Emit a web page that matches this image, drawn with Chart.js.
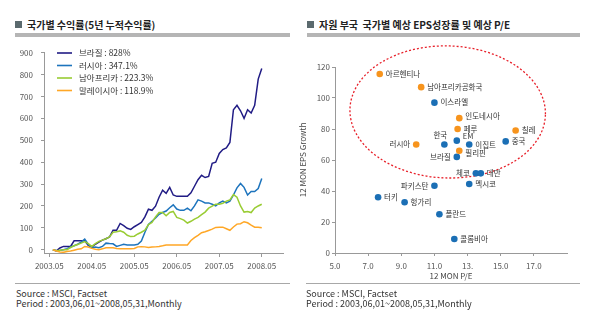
<!DOCTYPE html>
<html>
<head>
<meta charset="utf-8">
<script src="https://cdn.jsdelivr.net/npm/chart.js"></script>
<style>
  body { margin: 0; width: 598px; height: 329px; background: #fff; position: relative; overflow: hidden;
         font-family: 'Noto Sans CJK KR', sans-serif; color: #333; }
  .title { position: absolute; top: 18px; font-size: 10px; line-height: 13px; font-weight: bold; white-space: nowrap; color: #222; }
  .title span { display: inline-block; width: 7px; height: 7px; background: #5b6a6e; margin-right: 5px; vertical-align: 1px; }
  .bar { position: absolute; top: 33px; height: 4px; background: #b5b5b5; }
  .rule { position: absolute; top: 283px; height: 1px; background: #a8a8a8; }
  .src { position: absolute; top: 289px; font-size: 9px; line-height: 10px; white-space: nowrap; color: #333; }
  canvas { position: absolute; }
</style>
</head>
<body>
<div class="title" style="left:15px"><span></span>국가별 수익률(5년 누적수익률)</div>
<div class="bar" style="left:15px;width:275px"></div>
<div class="title" style="left:307px"><span></span>자원 부국&nbsp; 국가별 예상 EPS성장률 및 예상 P/E</div>
<div class="bar" style="left:307px;width:273px"></div>

<canvas id="lineChart" width="295" height="240" style="left:0;top:40px"></canvas>
<canvas id="scatterChart" width="300" height="245" style="left:298px;top:40px"></canvas>

<div class="rule" style="left:15px;width:275px"></div>
<div class="rule" style="left:306px;width:274px"></div>
<div class="src" style="left:16px">Source : MSCI, Factset<br>Period : 2003,06,01~2008,05,31,Monthly</div>
<div class="src" style="left:306px">Source : MSCI, Factset<br>Period : 2003,06,01~2008,05,31,Monthly</div>

<script>
// ---- left chart data (cumulative return %, monthly from 2003.06 to 2008.05) ----
const seriesNames = ["브라질", "러시아", "남아프리카", "말레이시아"];
const seriesReturns = ["828%", "347.1%", "223.3%", "118.9%"];
const seriesColors = ["#211c85", "#1d74bd", "#99cc33", "#ffa726"];

const brazil = [0, -5, 8, 15, 15, 15, 41, 41, 41, 41, 20, 12, 25, 35, 44, 50, 58, 89, 89, 120,
  110, 98, 93, 105, 115, 125, 150, 185, 180, 199, 240, 272, 258, 285, 250, 244, 244, 244, 244, 260,
  290, 320, 340, 330, 335, 395, 400, 440, 458, 465, 490, 640, 660, 635, 600, 640, 625, 660, 780, 828];
const russia = [0, -5, -3, 0, 5, 13, 18, 25, 35, 49, 25, 9, 12, 9, 15, 30, 28, 27, 15, 20,
  25, 22, 22, 22, 25, 40, 80, 115, 130, 145, 162, 170, 177, 192, 205, 186, 180, 180, 190, 178,
  200, 228, 222, 214, 214, 208, 200, 214, 222, 214, 222, 250, 283, 303, 285, 250, 266, 266, 280, 325];
const southAfrica = [0, -5, -2, 0, 0, 10, 18, 24, 30, 37, 28, 15, 28, 38, 44, 50, 58, 80, 82, 86,
  80, 66, 60, 62, 72, 80, 89, 115, 125, 150, 170, 170, 155, 170, 175, 148, 142, 135, 122, 130,
  140, 148, 160, 172, 190, 199, 208, 208, 212, 222, 228, 252, 240, 200, 172, 175, 170, 190, 200, 208];
const malaysia = [0, -6, -10, -12, -8, -6, -2, 2, 4, 15, 12, 6, 2, 0, 4, 9, 9, 9, 6, 4,
  4, 4, 4, 6, 13, 14, 13, 10, 12, 13, 15, 18, 22, 22, 22, 22, 22, 22, 22, 42,
  55, 66, 78, 82, 88, 94, 102, 103, 103, 96, 89, 104, 117, 119, 128, 123, 112, 103, 103, 100];

const returnTicks = [0, 100, 200, 300, 400, 500, 600, 700, 800, 900];

// month index of each x tick (0 = 2003.06) and its label
const monthTicks = [-1, 11, 23, 35, 47, 59];
const monthTickLabels = ["2003.05", "2004.05", "2005.05", "2006.05", "2007.05", "2008.05"];

// ---- right chart data (12M P/E, 12M EPS growth) ----
const orangeNames = ["아르헨티나", "남아프리카공화국", "러시아", "인도네시아", "페루", "칠레", "필리핀"];
const orangePE = [7.7, 10.2, 9.9, 12.5, 12.4, 15.9, 12.5];
const orangeEPS = [115.5, 107, 70, 87, 80, 79, 66];

const blueNames = ["이스라엘", "한국", "EM", "이집트", "중국", "브라질", "파키스탄", "체코", "대만",
  "멕시코", "터키", "헝가리", "폴란드", "콜롬비아"];
const bluePE = [11.0, 11.6, 12.35, 13.1, 15.3, 12.35, 11.0, 13.5, 13.8, 13.1, 7.6, 9.2, 11.3, 12.2];
const blueEPS = [97, 70, 72.5, 70, 72, 62, 43.4, 51.4, 51.4, 44.5, 36, 32.7, 25, 9];

const peTicks = [5, 7, 9, 11, 13, 15, 17];
const peTickLabels = ["5.0", "7.0", "9.0", "11.0", "13.", "15.0", "17.0"];

// dashed circle around the group (centre and radii in data units)
const ellipseCenter = [11.8, 91];
const ellipseRadius = [5.9, 42.6];

Chart.defaults.font.family = "'Noto Sans CJK KR', sans-serif";
Chart.defaults.font.size = 8;
Chart.defaults.color = "#555";

const axisColor = "#999";

// legend drawn inside the plot
const lineLegend = {
  id: "lineLegend",
  afterDraw(chart) {
    const ctx = chart.ctx;
    ctx.save();
    ctx.font = "8.5px 'Noto Sans CJK KR', sans-serif";
    ctx.fillStyle = "#333";
    ctx.textBaseline = "middle";
    seriesNames.forEach((name, i) => {
      const y = 13 + i * 12.5;
      ctx.strokeStyle = seriesColors[i];
      ctx.lineWidth = 1.6;
      ctx.beginPath();
      ctx.moveTo(57, y);
      ctx.lineTo(72, y);
      ctx.stroke();
      ctx.fillText(name + " : " + seriesReturns[i], 79, y);
    });
    ctx.restore();
  }
};

const allSeries = [brazil, russia, southAfrica, malaysia];

new Chart(document.getElementById("lineChart"), {
  type: "line",
  data: {
    datasets: allSeries.map((values, i) => ({
      label: seriesNames[i],
      data: values.map((v, m) => ({ x: m, y: v })),
      borderColor: seriesColors[i],
      borderWidth: 1.5,
      pointRadius: 0,
      tension: 0
    })).reverse()
  },
  options: {
    responsive: false,
    animation: false,
    layout: { padding: { top: 7, right: 12, left: 0, bottom: 0 } },
    plugins: { legend: { display: false }, tooltip: { enabled: false } },
    scales: {
      x: {
        type: "linear",
        min: -2.5,
        max: 65,
        afterBuildTicks: (s) => { s.ticks = monthTicks.map((v) => ({ value: v })); },
        afterFit: (s) => { s.height = 27; },
        ticks: {
          callback: (v, i) => monthTickLabels[i],
          padding: 4,
          maxRotation: 0,
          autoSkip: false
        },
        grid: { drawOnChartArea: false, tickLength: 4, color: axisColor },
        border: { color: axisColor }
      },
      y: {
        min: -15,
        max: 900,
        afterBuildTicks: (s) => { s.ticks = returnTicks.map((v) => ({ value: v })); },
        afterFit: (s) => { s.width = 44; },
        ticks: { padding: 8 },
        grid: { drawOnChartArea: false, tickLength: 3, color: axisColor },
        border: { color: axisColor }
      }
    }
  },
  plugins: [lineLegend]
});

// where a name goes if not to the right of its dot
const labelSide = { "한국": "above", "브라질": "left", "러시아": "left", "파키스탄": "left", "체코": "left" };
const labelNudge = { "EM": -4, "이집트": 1, "인도네시아": -2, "필리핀": 2.5 };

const ellipsePlugin = {
  id: "ellipse",
  beforeDatasetsDraw(chart) {
    const { ctx, scales } = chart;
    const cx = scales.x.getPixelForValue(ellipseCenter[0]);
    const cy = scales.y.getPixelForValue(ellipseCenter[1]);
    const rx = scales.x.getPixelForValue(ellipseCenter[0] + ellipseRadius[0]) - cx;
    const ry = cy - scales.y.getPixelForValue(ellipseCenter[1] + ellipseRadius[1]);
    ctx.save();
    ctx.strokeStyle = "#e8202a";
    ctx.lineWidth = 1.3;
    ctx.setLineDash([2, 2]);
    ctx.beginPath();
    ctx.ellipse(cx, cy, rx, ry, 0.03, 0, Math.PI * 2);
    ctx.stroke();
    ctx.restore();
  }
};

const pointLabels = {
  id: "pointLabels",
  afterDatasetsDraw(chart) {
    const ctx = chart.ctx;
    ctx.save();
    ctx.font = "7.5px 'Noto Sans CJK KR', sans-serif";
    ctx.fillStyle = "#333";
    ctx.textBaseline = "middle";
    chart.data.datasets.forEach((ds, di) => {
      chart.getDatasetMeta(di).data.forEach((pt, i) => {
        const name = ds.names[i];
        const side = labelSide[name] || "right";
        const dy = labelNudge[name] || 0;
        if (side === "left") {
          ctx.textAlign = "right";
          ctx.fillText(name, pt.x - 6, pt.y + dy);
        } else if (side === "above") {
          ctx.textAlign = "center";
          ctx.fillText(name, pt.x - 4, pt.y - 9);
        } else {
          ctx.textAlign = "left";
          ctx.fillText(name, pt.x + 6, pt.y + dy);
        }
      });
    });
    ctx.restore();
  }
};

new Chart(document.getElementById("scatterChart"), {
  type: "scatter",
  data: {
    datasets: [
      {
        label: "orange",
        names: orangeNames,
        data: orangePE.map((x, i) => ({ x: x, y: orangeEPS[i] })),
        backgroundColor: "#f7941d",
        borderWidth: 0,
        pointRadius: 3.3
      },
      {
        label: "blue",
        names: blueNames,
        data: bluePE.map((x, i) => ({ x: x, y: blueEPS[i] })),
        backgroundColor: "#1b6fb5",
        borderWidth: 0,
        pointRadius: 3.3
      }
    ]
  },
  options: {
    responsive: false,
    animation: false,
    layout: { padding: { top: 27, right: 31, left: 0, bottom: 0 } },
    plugins: { legend: { display: false }, tooltip: { enabled: false } },
    scales: {
      x: {
        type: "linear",
        min: 5,
        max: 19,
        afterBuildTicks: (s) => { s.ticks = peTicks.map((v) => ({ value: v })); },
        afterFit: (s) => { s.height = 32; },
        ticks: { callback: (v, i) => peTickLabels[i], padding: 5, maxRotation: 0, autoSkip: false },
        grid: { drawOnChartArea: false, tickLength: 3, color: axisColor },
        border: { color: axisColor },
        title: { display: true, text: "12 MON P/E", color: "#444", font: { size: 8 }, padding: { top: 0, bottom: 4 } }
      },
      y: {
        min: 0,
        max: 120,
        afterFit: (s) => { s.width = 37; },
        ticks: { stepSize: 20, padding: 2 },
        grid: { drawOnChartArea: false, tickLength: 3, color: axisColor },
        border: { color: axisColor },
        title: { display: true, text: "12 MON EPS Growth", color: "#444", font: { size: 8 }, padding: { top: 0, bottom: 0 } }
      }
    }
  },
  plugins: [ellipsePlugin, pointLabels]
});
</script>
</body>
</html>
